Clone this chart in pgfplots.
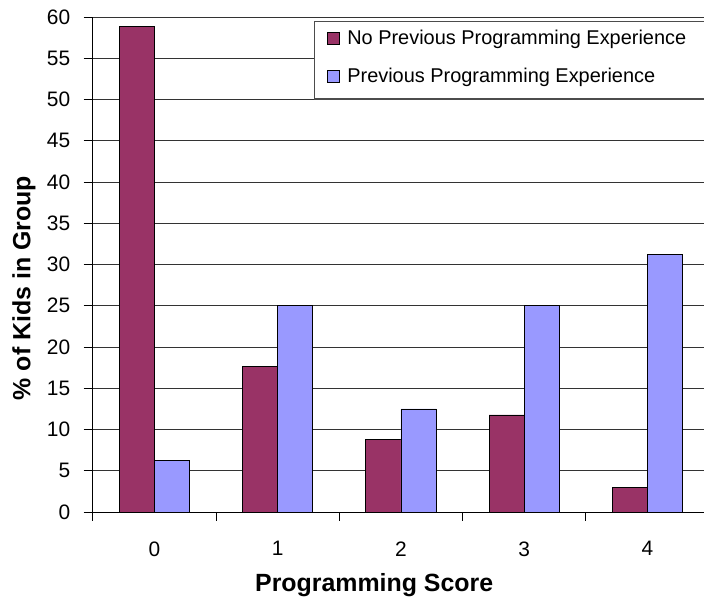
\documentclass[border=0pt]{standalone}
\usepackage{pgfplots}
\pgfplotsset{compat=1.18}
\usepackage{fontspec}
\setmainfont{Liberation Sans}
\definecolor{maroonbar}{HTML}{993366}
\definecolor{bluebar}{HTML}{9999FF}
\begin{document}
\begin{tikzpicture}[x=1bp,y=1bp]
\begin{axis}[
  at={(92.7bp,91bp)}, anchor=south west,
  scale only axis, width=616.5bp, height=495bp,
  xmin=-0.5, xmax=4.5, ymin=0, ymax=60,
  axis x line*=bottom, axis y line*=left,
  axis line style={black, line width=0.9bp},
  ybar=0pt, bar width=0.285,
  xtick={-0.5,0.5,1.5,2.5,3.5,4.5},
  xticklabels={0,1,2,3,4},
  x tick label as interval,
  ytick={0,5,...,60},
  tick align=outside, major tick length=9bp,
  tick style={black, line width=0.9bp},
  ymajorgrids, grid style={black!80, line width=0.9bp},
  /pgf/number format/assume math mode=true,
  tick label style={font=\fontsize{21}{25}\selectfont},
  yticklabel style={xshift=-10bp},
  xticklabel style={yshift=-17bp},
  xlabel={\textbf{Programming Score}},
  ylabel={\textbf{\% of Kids in Group}},
  label style={font=\fontsize{25}{30}\selectfont},
  xlabel style={at={(axis description cs:0.4566,-0.16)}, anchor=base},
  ylabel style={at={(axis description cs:-0.1114,0.4525)}, anchor=center, rotate=0},
  legend cell align=left,
  legend image code/.code={\draw[#1, draw=black, line width=0.7bp] (0bp,0bp) rectangle (12bp,12bp);},
  legend style={at={(axis description cs:0.359,0.9925)}, anchor=north west,
    draw=black!70, line width=1.2bp, fill=white,
    inner xsep=12bp, inner ysep=8.3bp, row sep=15bp, column sep=8bp,
    font=\fontsize{20}{24}\selectfont,
    cells={anchor=base west},
    nodes={inner sep=0pt, text height=15bp, text depth=8bp}},
]
\addplot[fill=maroonbar, draw=black, line width=0.7bp, bar shift=-0.1425] coordinates {(0,58.82) (1,17.65) (2,8.82) (3,11.76) (4,2.94)};
\addlegendentry{No Previous Programming Experience\rule{40bp}{0pt}}
\addplot[fill=bluebar, draw=black, line width=0.7bp, bar shift=0.1425] coordinates {(0,6.25) (1,25) (2,12.5) (3,25) (4,31.25)};
\addlegendentry{Previous Programming Experience}
\end{axis}
\pgfresetboundingbox
\path[use as bounding box] (0,0) rectangle (704,603);
\end{tikzpicture}
\end{document}
